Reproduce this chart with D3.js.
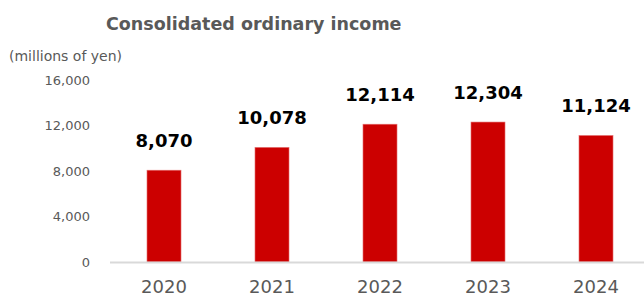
<!DOCTYPE html>
<html><head><meta charset="utf-8">
<script src="https://cdn.jsdelivr.net/npm/d3@7"></script>
<style>body{margin:0;background:#fff}svg{display:block}</style>
</head><body>
<script>
const years = ["2020","2021","2022","2023","2024"];
const values = [8070, 10078, 12114, 12304, 11124];
const yTicks = [0, 4000, 8000, 12000, 16000];
const title = "Consolidated ordinary income";
const unit = "(millions of yen)";

const W = 644, H = 296;
const svg = d3.select("body").append("svg").attr("width", W).attr("height", H);
const font = "'DejaVu Sans', Verdana, sans-serif";

const x = d3.scaleBand().domain(years).range([110, 650]).paddingInner(0.685).paddingOuter(0.3425);
const y = d3.scaleLinear().domain([0, 16000]).range([262, 80]);

svg.append("text").attr("x", 106).attr("y", 30).attr("font-family", font)
  .attr("font-weight", "bold").attr("font-size", 17.5).attr("fill", "#595959").text(title);
svg.append("text").attr("x", 9).attr("y", 61).attr("font-family", font)
  .attr("font-size", 14).attr("fill", "#595959").text(unit);

const yAxis = svg.append("g").attr("transform", "translate(90,0)")
  .call(d3.axisLeft(y).tickValues(yTicks).tickSize(0).tickPadding(0).tickFormat(d3.format(",")));
yAxis.select(".domain").remove();
yAxis.selectAll("text").attr("font-family", font).attr("font-size", 13).attr("fill", "#595959");

svg.selectAll("rect.bar").data(values).join("rect").attr("class", "bar")
  .attr("x", (d, i) => x(years[i])).attr("width", x.bandwidth())
  .attr("y", d => y(d)).attr("height", d => y(0) - y(d))
  .attr("fill", "#cc0000").attr("stroke", "#e57373").attr("stroke-width", 0.6);

svg.append("line").attr("x1", 110).attr("x2", 644).attr("y1", y(0) + 0.5).attr("y2", y(0) + 0.5)
  .attr("stroke", "#d9d9d9").attr("stroke-width", 2);

const xAxis = svg.append("g").attr("transform", `translate(0,${y(0)})`)
  .call(d3.axisBottom(x).tickSize(0).tickPadding(18));
xAxis.select(".domain").remove();
xAxis.selectAll("text").attr("font-family", font).attr("font-size", 18).attr("fill", "#595959");

svg.selectAll("text.val").data(values).join("text").attr("class", "val")
  .attr("x", (d, i) => x(years[i]) + x.bandwidth() / 2).attr("y", d => y(d) - 23)
  .attr("text-anchor", "middle").attr("font-family", font).attr("font-weight", "bold")
  .attr("font-size", 18).attr("fill", "#000").text(d => d3.format(",")(d));
</script>
</body></html>
